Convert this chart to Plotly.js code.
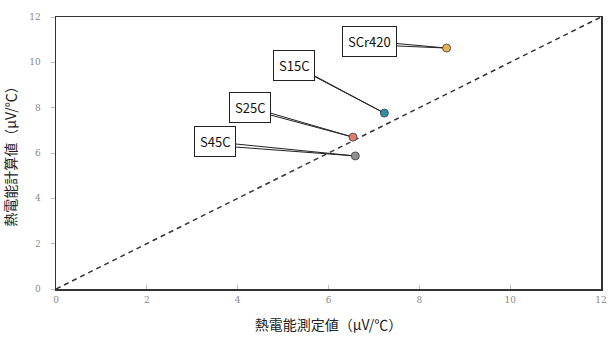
<!DOCTYPE html>
<html><head><meta charset="utf-8">
<script src="https://cdn.plot.ly/plotly-3.0.1.min.js"></script>
<style>html,body{margin:0;padding:0;background:#fff;}#chart{width:612px;height:342px;}</style>
</head><body><div id="chart"></div>
<script>
const names = ["SCr420", "S15C", "S25C", "S45C"];
const measured = [8.6, 7.23, 6.54, 6.59];
const calculated = [10.63, 7.76, 6.7, 5.87];
const colors = ["#e9b24f", "#2b8ea3", "#e27b6c", "#8f8f8f"];
const refX = [0, 12];
const refY = [0, 12];
const tickVals = [0, 2, 4, 6, 8, 10, 12];
const labelOffsetX = [-77, -90, -103, -140];
const labelOffsetY = [-7, -48, -30, -14];

const traces = [
  {x: refX, y: refY, mode: 'lines', line: {color: '#333', width: 1.5, dash: '5px,4px'}, hoverinfo: 'skip'},
  {x: measured, y: calculated, mode: 'markers', text: names,
   marker: {size: 8, color: colors, line: {color: '#555', width: 1}}}
];

const annotations = [];
names.forEach((n, i) => {
  [1, 0].forEach(d => {
    annotations.push({x: measured[i], y: calculated[i], xref: 'x', yref: 'y',
      text: d === 0 ? n : '', showarrow: true, arrowhead: 0, arrowwidth: 1, arrowcolor: '#222',
      ax: labelOffsetX[i] + (d === 0 ? 0 : 6), ay: labelOffsetY[i] + (d === 0 ? 0 : 4), standoff: 4,
      font: {family: 'Noto Sans CJK JP, sans-serif', size: 13, color: '#111'},
      bgcolor: d === 0 ? '#fff' : 'rgba(0,0,0,0)', bordercolor: d === 0 ? '#222' : 'rgba(0,0,0,0)', borderwidth: 1, borderpad: 5});
  });
});

const layout = {
  width: 612, height: 342, showlegend: false,
  paper_bgcolor: '#fff', plot_bgcolor: '#fff',
  margin: {l: 56, r: 11, t: 17, b: 53},
  xaxis: {range: [0, 12], tickvals: tickVals, showgrid: false, zeroline: false,
    showline: true, linecolor: '#333', linewidth: 1.5, mirror: true,
    ticks: 'inside', ticklen: 4, tickcolor: '#bbb', ticklabelstandoff: 2,
    tickfont: {family: 'DejaVu Serif, serif', size: 9, color: '#888'},
    title: {text: '熱電能測定値（μV/℃）', standoff: 16, font: {family: 'Noto Sans CJK JP, sans-serif', size: 14, color: '#222'}}},
  yaxis: {range: [0, 12], tickvals: tickVals, showgrid: false, zeroline: false,
    showline: true, linecolor: '#333', linewidth: 1.5, mirror: true,
    ticks: 'outside', ticklen: 4, tickcolor: '#bbb', ticklabelstandoff: 8,
    tickfont: {family: 'DejaVu Serif, serif', size: 9, color: '#888'},
    title: {text: '熱電能計算値（μV/℃）', standoff: 10, font: {family: 'Noto Sans CJK JP, sans-serif', size: 14, color: '#222'}}},
  annotations: annotations
};
Plotly.newPlot('chart', traces, layout, {displayModeBar: false, staticPlot: true});
</script></body></html>
